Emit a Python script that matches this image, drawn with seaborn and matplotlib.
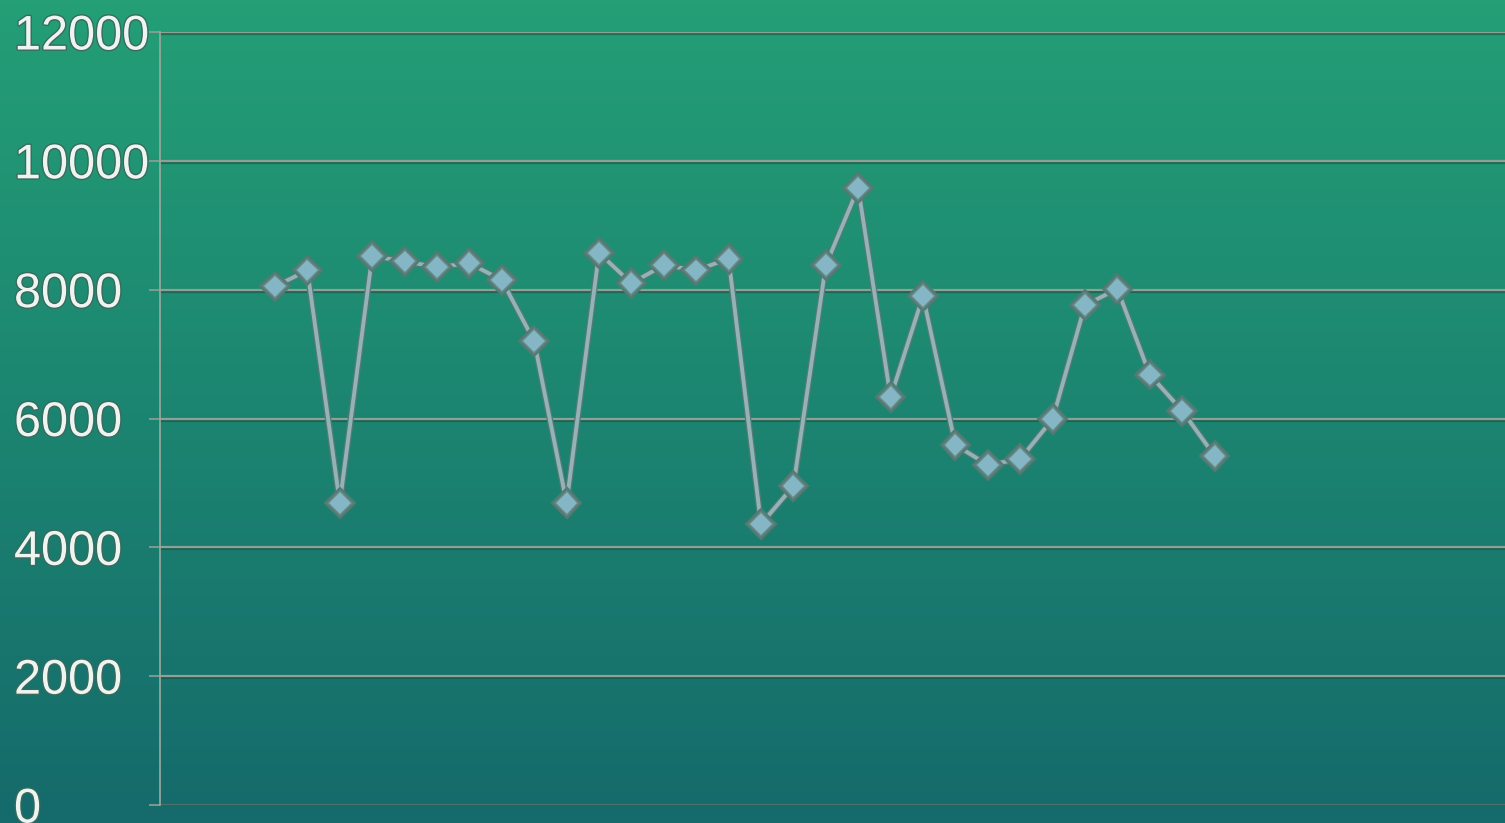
import numpy as np
import pandas as pd
import matplotlib
matplotlib.use('Agg')
import matplotlib.pyplot as plt
import matplotlib.patheffects as pe
import matplotlib.transforms as mtrans
from matplotlib.colors import LinearSegmentedColormap
import seaborn as sns

# data
points = list(range(1, 31))
values = [8050, 8300, 4690, 8520, 8440, 8350, 8410, 8150, 7200, 4690,
          8570, 8100, 8380, 8300, 8480, 4360, 4950, 8380, 9580, 6330,
          7900, 5590, 5280, 5370, 5990, 7760, 8010, 6680, 6120, 5420]
y_ticks = [0, 2000, 4000, 6000, 8000, 10000, 12000]

df = pd.DataFrame({'point': points, 'value': values})

W, H = 1505, 823
fig = plt.figure(figsize=(W / 100, H / 100), dpi=100)

# gradient background
bg = fig.add_axes([0, 0, 1, 1], zorder=-10)
grad = LinearSegmentedColormap.from_list('bg', ['#156a6b', '#1c8571', '#249f76'])
bg.imshow(np.linspace(0, 1, 256)[:, None], cmap=grad, aspect='auto',
          origin='lower', extent=[0, 1, 0, 1])
bg.set_axis_off()

left, right = 160 / W, 1.0
top, bottom = 1 - 32 / H, 1 - 805 / H
ax = fig.add_axes([left, bottom, right - left, top - bottom])
ax.set_facecolor('none')

for t in y_ticks:
    col = '#4f6f68' if t == 0 else '#8fa094'
    ax.axhline(t, color=col, linewidth=1.6, zorder=1,
               path_effects=[pe.SimpleLineShadow(offset=(0, -1.5), shadow_color='#1f4f45', alpha=0.6), pe.Normal()])

sns.lineplot(data=df, x='point', y='value', ax=ax, color='#93b3b9',
             linewidth=2.8, marker='D', markersize=12,
             markerfacecolor='#84b6c6', markeredgecolor='#648a88',
             markeredgewidth=1.1, zorder=3)
for ln in ax.lines[-1:]:
    ln.set_path_effects([pe.Stroke(linewidth=4.6, foreground='#557a74'), pe.Normal()])

ax.set_xlim(1 - 115 / 32.4, 1 + (W - 275) / 32.4)
ax.set_ylim(0, 12000)
ax.set_xlabel('')
ax.set_ylabel('')
ax.set_xticks([])
ax.set_yticks(y_ticks)
ax.set_yticklabels([])
ax.tick_params(axis='y', length=8, width=1.2, color='#8fa094')
for s in ['top', 'right', 'bottom']:
    ax.spines[s].set_visible(False)
ax.spines['left'].set_color('#9aaaa0')
ax.spines['left'].set_linewidth(1.2)

trans = mtrans.blended_transform_factory(fig.transFigure, ax.transData)
for t in y_ticks:
    ax.text(14 / W, t, f'{t}', transform=trans, ha='left', va='center_baseline',
            fontsize=35, family='Liberation Sans', color='#eef4f0', clip_on=False,
            path_effects=[pe.withStroke(linewidth=2, foreground='#3a6a5e')])

fig.savefig('out.png', dpi=100)
